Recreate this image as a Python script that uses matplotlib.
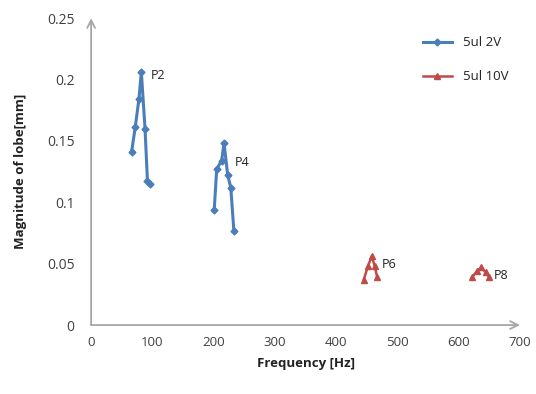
import numpy as np
import matplotlib.pyplot as plt

plt.rcParams['font.family'] = ['Open Sans', 'DejaVu Sans']

# data
freq_2v = [66, 72, 78, 82, 88, 92, 96]
mag_2v = [0.141, 0.161, 0.184, 0.206, 0.160, 0.117, 0.115]
freq_2v_b = [201, 205, 213, 217, 223, 228, 233]
mag_2v_b = [0.094, 0.127, 0.134, 0.148, 0.122, 0.112, 0.077]

freq_10v = [445, 452, 458, 463, 467]
mag_10v = [0.037, 0.048, 0.056, 0.048, 0.039]
freq_10v_b = [622, 630, 637, 644, 650]
mag_10v_b = [0.039, 0.044, 0.047, 0.043, 0.039]

peak_labels = ['P2', 'P4', 'P6', 'P8']
peak_pos = [(98, 0.198), (234, 0.127), (474, 0.044), (658, 0.035)]

x_ticks = [0, 100, 200, 300, 400, 500, 600, 700]
y_ticks = [0, 0.05, 0.1, 0.15, 0.2, 0.25]
y_ticklabels = ['0', '0.05', '0.1', '0.15', '0.2', '0.25']

blue = '#4A7EBB'
red = '#BE4B48'
grey = '#A6A6A6'

fig = plt.figure(figsize=(5.36, 3.94), dpi=100)
ax = fig.add_axes([0.170, 0.175, 0.800, 0.779])

ax.plot(freq_2v, mag_2v, color=blue, lw=2.2, marker='D', ms=3.5, label='5ul 2V')
ax.plot(freq_2v_b, mag_2v_b, color=blue, lw=2.2, marker='D', ms=3.5)
ax.plot(freq_10v, mag_10v, color=red, lw=1.8, marker='^', ms=4.5, label='5ul 10V')
ax.plot(freq_10v_b, mag_10v_b, color=red, lw=1.8, marker='^', ms=4.5)

for lab, (px, py) in zip(peak_labels, peak_pos):
    ax.text(px, py, lab, fontsize=9, color='#222222', va='bottom')

ax.set_xlim(0, 700)
ax.set_ylim(0, 0.25)
ax.set_xticks(x_ticks)
ax.set_yticks(y_ticks)
ax.set_yticklabels(y_ticklabels)
ax.tick_params(axis='x', length=0, labelsize=9.5, colors='#404040', pad=8)
ax.tick_params(axis='y', length=0, labelsize=10, colors='#404040', pad=12)

for s in ax.spines.values():
    s.set_visible(False)
# axis lines with open arrow heads
ax.annotate('', xy=(0, 1.0), xytext=(0, 0), xycoords='axes fraction',
            arrowprops=dict(arrowstyle='->', color=grey, lw=1.3,
                            mutation_scale=14, shrinkA=0, shrinkB=0))
ax.annotate('', xy=(1.0, 0), xytext=(0, 0), xycoords='axes fraction',
            arrowprops=dict(arrowstyle='->', color=grey, lw=1.3,
                            mutation_scale=14, shrinkA=0, shrinkB=0))

ax.set_xlabel('Frequency [Hz]', fontsize=9.5, fontweight='bold', color='#222222',
              labelpad=6)
ax.set_ylabel('Magnitude of lobe[mm]', fontsize=9.5, fontweight='bold', color='#222222',
              labelpad=14)

leg = ax.legend(loc='upper right', bbox_to_anchor=(1.0, 0.98), frameon=False,
                fontsize=9.5, labelspacing=1.6, handlelength=2.2)
for t in leg.get_texts():
    t.set_color('#222222')

plt.savefig('out.png', dpi=100)
